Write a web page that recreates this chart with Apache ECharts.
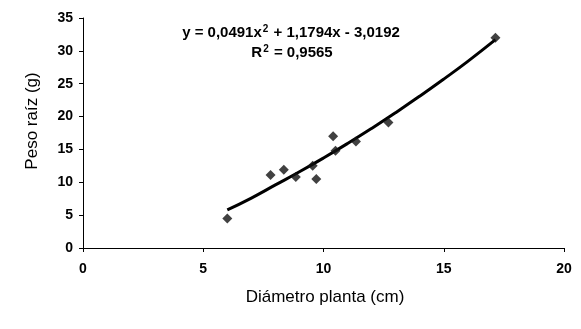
<!DOCTYPE html>
<html>
<head>
<meta charset="utf-8">
<script src="https://cdn.jsdelivr.net/npm/echarts@6/dist/echarts.min.js"></script>
<style>html,body{margin:0;padding:0;background:#fff}#c{width:581px;height:329px}</style>
</head>
<body>
<div id="c"></div>
<script>
// Observed data (Diámetro planta cm, Peso raíz g)
var diametro = [6.0, 7.8, 8.35, 8.85, 9.55, 9.7, 10.4, 10.5, 11.35, 12.7, 17.15];
var peso     = [4.5, 11.1, 11.9, 10.8, 12.5, 10.5, 17.0, 14.8, 16.2, 19.1, 32.0];
// Polynomial trendline
var trendX = [6.0, 7, 8, 9, 10, 11, 12, 13, 14, 15, 16, 17.15];
var trendY = [5.8, 7.6, 9.6, 11.6, 13.7, 15.9, 18.2, 20.6, 23.1, 25.7, 28.4, 31.7];
var xTicks = [0, 5, 10, 15, 20];
var yTicks = [0, 5, 10, 15, 20, 25, 30, 35];
var equation = '{n|y = 0,0491x}{s|2}{n| + 1,1794x - 3,0192}';
var r2 = '{n|R}{s|2}{n| = 0,9565}';

var chart = echarts.init(document.getElementById('c'), null, {renderer: 'canvas'});
var pts = diametro.map(function (d, i) { return [d, peso[i]]; });
var trend = trendX.map(function (d, i) { return [d, trendY[i]]; });
var FF = '"Liberation Sans", Arial, sans-serif';
var tickFont = {color: '#000', fontFamily: FF, fontWeight: 'bold', fontSize: 14};
var rich = {
  n: {fontFamily: FF, fontWeight: 'bold', fontSize: 15, lineHeight: 16, verticalAlign: 'bottom', fill: '#000'},
  s: {fontFamily: FF, fontWeight: 'bold', fontSize: 10, lineHeight: 16, verticalAlign: 'top', padding: [0, 1, 0, 1], fill: '#000'}
};
chart.setOption({
  animation: false,
  backgroundColor: '#fff',
  grid: {left: 83, right: 17, top: 18, bottom: 81},
  xAxis: {
    type: 'value', min: xTicks[0], max: xTicks[xTicks.length - 1], interval: 5,
    splitLine: {show: false},
    axisLine: {lineStyle: {color: '#000', width: 1}},
    axisTick: {lineStyle: {color: '#000'}, length: 4},
    axisLabel: Object.assign({margin: 14}, tickFont)
  },
  yAxis: {
    type: 'value', min: yTicks[0], max: yTicks[yTicks.length - 1], interval: 5,
    splitLine: {show: false},
    axisLine: {show: true, lineStyle: {color: '#000', width: 1}},
    axisTick: {show: true, lineStyle: {color: '#000'}, length: 4},
    axisLabel: Object.assign({margin: 10}, tickFont)
  },
  graphic: [
    {type: 'text', position: [32, 121], rotation: Math.PI / 2,
      style: {text: 'Peso raíz (g)', fill: '#000', font: '17px "Liberation Sans", Arial, sans-serif', textAlign: 'center', textVerticalAlign: 'middle'}},
    {type: 'text', position: [325, 297],
      style: {text: 'Diámetro planta (cm)', fill: '#000', font: '17px "Liberation Sans", Arial, sans-serif', textAlign: 'center', textVerticalAlign: 'middle'}},
    {type: 'text', position: [291, 32],
      style: {text: equation, fill: '#000', textAlign: 'center', textVerticalAlign: 'middle', rich: rich}},
    {type: 'text', position: [292, 52],
      style: {text: r2, fill: '#000', textAlign: 'center', textVerticalAlign: 'middle', rich: rich}}
  ],
  series: [
    {type: 'line', data: trend, smooth: true, showSymbol: false, symbol: 'none',
      lineStyle: {color: '#000', width: 3}, z: 2},
    {type: 'scatter', data: pts, symbol: 'diamond', symbolSize: 10,
      itemStyle: {color: '#111'}, z: 3}
  ]
});
</script>
</body>
</html>
